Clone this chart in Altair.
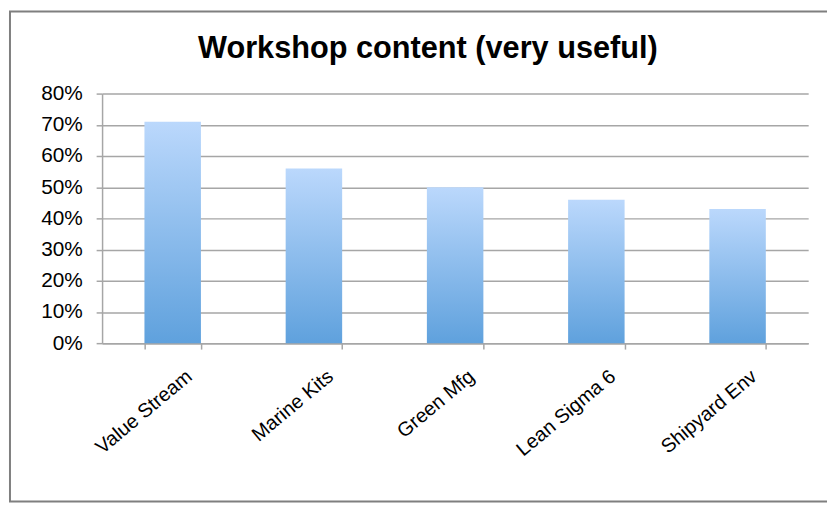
import altair as alt
import pandas as pd

title_text = "Workshop content (very useful)"
categories = ["Value Stream", "Marine Kits", "Green Mfg", "Lean Sigma 6", "Shipyard Env"]
values = [0.71, 0.56, 0.50, 0.46, 0.43]
y_ticks = [0, 0.1, 0.2, 0.3, 0.4, 0.5, 0.6, 0.7, 0.8]

df = pd.DataFrame({"category": categories, "value": values})

gray = "#A6A6A6"
font = "Liberation Sans"

gradient = alt.Gradient(
    gradient="linear",
    stops=[
        alt.GradientStop(color="#BBD8FC", offset=0),
        alt.GradientStop(color="#5FA1DD", offset=1),
    ],
    x1=0, x2=0, y1=0, y2=1,
)

bars = alt.Chart(df).mark_bar(color=gradient).encode(
    x=alt.X(
        "category:N",
        sort=categories,
        title=None,
        scale=alt.Scale(paddingInner=0.6, paddingOuter=0.3),
        axis=alt.Axis(
            labelAngle=-40,
            labelFont=font,
            labelFontSize=20,
            labelColor="#000000",
            labelPadding=17,
            labelOffset=10,
            tickBand="extent",
            tickSize=6,
            tickColor=gray,
            tickWidth=1.5,
            domainColor=gray,
            domainWidth=1.5,
            grid=False,
        ),
    ),
    y=alt.Y(
        "value:Q",
        title=None,
        scale=alt.Scale(domain=[0, 0.8], nice=False),
        axis=alt.Axis(
            values=y_ticks,
            format=".0%",
            labelFont=font,
            labelFontSize=21,
            labelColor="#000000",
            labelPadding=14,
            tickSize=6,
            tickColor=gray,
            tickWidth=1.5,
            domainColor=gray,
            domainWidth=1.5,
            grid=True,
            gridColor=gray,
            gridWidth=1.5,
        ),
    ),
)

title = alt.Chart(pd.DataFrame({"t": [title_text]})).mark_text(
    font=font, fontSize=31, fontWeight="bold", color="#000000",
    align="center", baseline="alphabetic",
).encode(
    text="t:N",
    x=alt.value(329),
    y=alt.value(-36),
)

frame = alt.Chart(pd.DataFrame({"k": [0]})).mark_rect(
    fill=None, stroke="#7F7F7F", strokeWidth=2
).encode(
    x=alt.value(-93),
    x2=alt.value(740),
    y=alt.value(-83),
    y2=alt.value(412),
)

chart = alt.layer(bars, title, frame).properties(
    width=713,
    height=252,
    autosize=alt.AutoSizeParams(type="none"),
    padding={"left": 95, "top": 84, "right": 19, "bottom": 162},
).configure_view(stroke=None)

chart.save("out.html", embed_options={"renderer": "svg", "actions": False})
